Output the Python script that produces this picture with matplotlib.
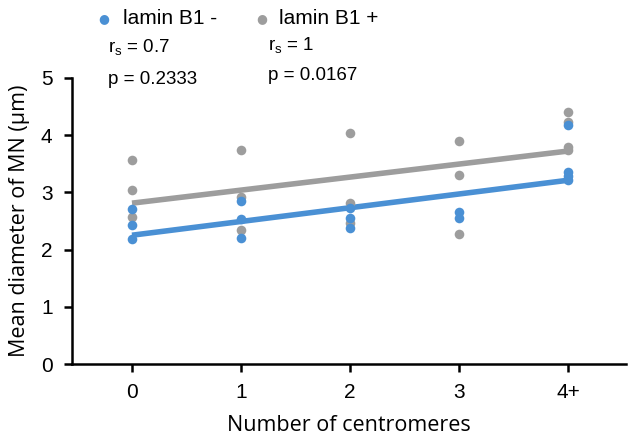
import matplotlib
matplotlib.use("Agg")
import matplotlib.pyplot as plt
import numpy as np

CATEGORIES = ["0", "1", "2", "3", "4+"]

# per category index
MINUS_X = [0, 0, 0, 1, 1, 1, 2, 2, 2, 3, 3, 4, 4, 4, 4]
MINUS_Y = [2.71, 2.43, 2.19, 2.84, 2.54, 2.21, 2.73, 2.55, 2.38, 2.66, 2.55, 4.17, 3.36, 3.29, 3.22]
PLUS_X = [0, 0, 0, 1, 1, 1, 2, 2, 2, 3, 3, 3, 4, 4, 4, 4]
PLUS_Y = [3.57, 3.04, 2.56, 3.74, 2.92, 2.34, 4.04, 2.81, 2.46, 3.89, 3.30, 2.27, 4.41, 4.23, 3.79, 3.74]

# trend line values at first and last category
TREND_X = [0, 4]
TREND_MINUS = [2.25, 3.21]
TREND_PLUS = [2.81, 3.72]

STATS_MINUS = ("0.7", "0.2333")
STATS_PLUS = ("1", "0.0167")

BLUE = "#4a90d4"
GREY = "#9d9d9d"
FONT = "Liberation Sans"
LABEL_FONT = "Open Sans"

fig = plt.figure(figsize=(6.32, 4.37), dpi=100)
ax = fig.add_axes([0.114, 0.167, 0.876, 0.655])

ax.plot(TREND_X, TREND_PLUS, color=GREY, lw=4, solid_capstyle="butt", zorder=2)
ax.plot(TREND_X, TREND_MINUS, color=BLUE, lw=4, solid_capstyle="butt", zorder=2)
ax.scatter(PLUS_X, PLUS_Y, s=48, color=GREY, zorder=3, linewidths=0)
ax.scatter(MINUS_X, MINUS_Y, s=48, color=BLUE, zorder=3, linewidths=0)

ax.set_xlim(-0.55, 4.53)
ax.set_ylim(0, 5)
ax.set_xticks(range(len(CATEGORIES)))
ax.set_xticklabels(CATEGORIES)
ax.set_yticks(range(6))
for s in ["top", "right"]:
    ax.spines[s].set_visible(False)
for s in ["left", "bottom"]:
    ax.spines[s].set_linewidth(1.8)
ax.tick_params(width=1.8, length=6, labelsize=15, pad=8)
for lab in ax.get_xticklabels() + ax.get_yticklabels():
    lab.set_fontfamily(FONT)

ax.set_xlabel("Number of centromeres", fontsize=15.5, fontfamily=LABEL_FONT, labelpad=9)
ax.set_ylabel("Mean diameter of MN (μm)", fontsize=15.5, fontfamily=LABEL_FONT, labelpad=8)

# legend and stats as free text at the top
fig.text(104 / 632, 1 - 19 / 437, "●", color=BLUE, fontsize=9, ha="center", va="center")
fig.text(123 / 632, 1 - 18 / 437, "lamin B1 -", fontsize=15, fontfamily=FONT, va="center")
fig.text(262 / 632, 1 - 19 / 437, "●", color=GREY, fontsize=9, ha="center", va="center")
fig.text(279 / 632, 1 - 18 / 437, "lamin B1 +", fontsize=15, fontfamily=FONT, va="center")

fig.text(108 / 632, 1 - 48 / 437, "r$_\\mathregular{s}$ = " + STATS_MINUS[0], fontsize=13.5, fontfamily=FONT, va="center")
fig.text(108 / 632, 1 - 80 / 437, "p = " + STATS_MINUS[1], fontsize=13.5, fontfamily=FONT, va="center")
fig.text(268 / 632, 1 - 46 / 437, "r$_\\mathregular{s}$ = " + STATS_PLUS[0], fontsize=13.5, fontfamily=FONT, va="center")
fig.text(268 / 632, 1 - 76 / 437, "p = " + STATS_PLUS[1], fontsize=13.5, fontfamily=FONT, va="center")

fig.savefig("out.png", dpi=100)
